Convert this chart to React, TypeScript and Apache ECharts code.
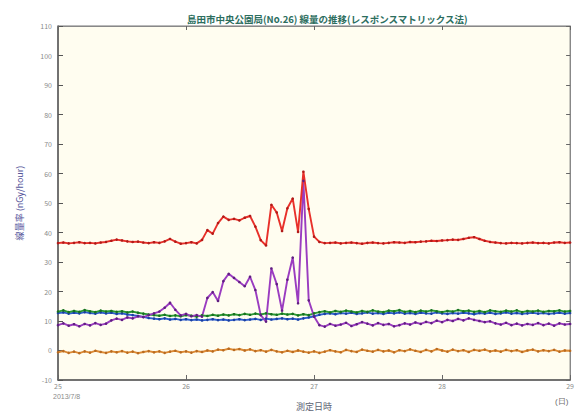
import React, { useEffect, useRef } from "react";
import * as echarts from "echarts";

// Hourly readings from 25th 00:00 to 29th 00:00 (97 points)
const startDay = 25;
const stepDays = 1 / 24;
const dayTicks = ["25", "26", "27", "28", "29"];

const totalRate = [
  36.4, 36.6, 36.3, 36.5, 36.7, 36.4, 36.5, 36.3, 36.6, 36.8, 37.2, 37.6, 37.3, 37.0, 36.8, 36.9, 36.6, 36.4, 36.7, 36.5,
  37.0, 37.8, 36.9, 36.2, 36.4, 36.7, 36.3, 37.5, 40.8, 39.6, 43.2, 45.4, 44.3, 44.6, 44.1, 45.0, 45.6, 42.0, 37.4, 35.6,
  49.4, 46.8, 40.5, 48.2, 51.5, 40.2, 60.6, 48.0, 38.6, 36.8, 36.4, 36.5, 36.6, 36.3, 36.5, 36.6, 36.4, 36.2, 36.5, 36.6,
  36.4, 36.3, 36.5, 36.7, 36.6, 36.5, 36.8, 36.7, 36.9, 37.0, 37.2, 37.1, 37.3, 37.4, 37.6, 37.5, 37.8, 38.2, 38.4, 37.8,
  37.2, 36.8, 36.6, 36.4, 36.3, 36.5, 36.4, 36.3, 36.5, 36.6, 36.4, 36.5, 36.3, 36.6, 36.7, 36.5, 36.6,
];

const uraniumRate = [
  8.6, 9.2, 8.4, 8.9, 8.2, 9.0, 8.5, 9.3, 8.7, 9.1, 10.2, 10.8, 10.4, 11.2, 10.9, 11.6, 11.3, 12.0, 12.6, 13.2,
  14.5, 16.2, 13.8, 11.9, 12.4, 11.6, 12.0, 11.5, 17.8, 19.8, 16.8, 23.5, 26.0, 24.6, 23.2, 21.8, 25.0, 20.5, 12.0, 9.8,
  27.8, 22.5, 13.5, 24.0, 31.5, 16.0, 57.5, 17.0, 11.5, 8.6, 8.1, 9.0, 8.4, 8.8, 9.4, 8.3, 8.9, 9.6, 9.1, 8.5,
  9.3, 8.7, 9.0, 8.2, 8.6, 9.2, 8.8, 9.5, 9.0, 9.7, 9.3, 10.1, 9.6, 10.4, 10.0, 10.7, 10.2, 10.9, 10.4, 10.0,
  9.6, 9.9, 9.2, 8.8, 9.4, 8.6, 9.1, 8.5, 9.0, 8.7, 9.3, 8.6, 9.1, 8.4, 9.2, 8.8, 9.0,
];

const thoriumRate = [
  13.2, 13.6, 13.0, 13.4, 13.1, 13.7, 13.3, 13.0, 13.5, 13.2, 13.4, 13.1, 13.3, 12.9, 13.2, 12.8, 12.5, 12.2, 12.0, 11.8,
  12.1, 11.7, 11.9, 11.6, 12.0, 11.8, 11.5, 11.9, 11.7, 12.1, 11.8, 12.2, 11.9, 12.3, 12.0, 12.4, 12.1, 12.5, 12.2, 12.6,
  12.3, 12.1, 12.5, 12.2, 12.4, 11.9, 12.3, 12.0, 12.6, 13.0, 13.3, 12.9, 13.4, 13.1, 13.5, 13.2, 12.9, 13.4, 13.1, 13.6,
  13.2, 13.0, 13.5, 13.3, 13.7, 13.1, 13.4, 13.0, 13.5, 13.2, 13.6, 13.3, 13.0, 13.4, 13.2, 13.7, 13.3, 13.5, 13.1, 13.4,
  13.0, 13.6, 13.3, 13.1, 13.5, 13.2, 13.6, 13.0, 13.4, 13.2, 13.5, 13.1, 13.4, 13.3, 13.6, 13.2, 13.4,
];

const potassiumRate = [
  12.7, 12.9, 12.5, 12.8, 12.6, 13.0, 12.7, 12.5, 12.9, 12.6, 12.8, 12.4, 12.6, 12.2, 12.0, 11.7, 11.4, 11.0, 10.8, 10.6,
  10.9, 10.5, 10.7, 10.4, 10.6, 10.3, 10.5, 10.2, 10.4, 10.6, 10.3, 10.5, 10.2, 10.4, 10.6, 10.3, 10.5, 10.7, 10.4, 10.8,
  10.5, 10.7, 10.9, 10.6, 10.8, 10.5, 10.9, 11.2, 11.6, 12.1, 12.4, 12.6, 12.3, 12.7, 12.5, 12.8, 12.4, 12.6, 12.9, 12.5,
  12.7, 12.4, 12.8, 12.6, 12.9, 12.5, 12.7, 12.4, 12.8, 12.6, 12.5, 12.9, 12.6, 12.4, 12.7, 12.5, 12.8, 12.6, 12.3, 12.7,
  12.5, 12.8, 12.4, 12.6, 12.9, 12.5, 12.7, 12.4, 12.6, 12.8, 12.5, 12.7, 12.4, 12.6, 12.8, 12.5, 12.7,
];

const artificialRate = [
  -0.6, -0.2, -0.8, -0.4, -0.9, -0.3, -0.7, -0.1, -0.5, -0.8, -0.3, -0.6, -0.2, -0.7, -0.4, -0.9, -0.5, -0.2, -0.6, -0.3,
  -0.8, -0.4, -0.1, -0.6, -0.3, -0.7, -0.2, -0.5, 0.0, -0.3, 0.3, 0.1, 0.6, 0.2, 0.5, 0.0, 0.4, -0.2, 0.1, -0.4,
  0.2, -0.3, -0.6, -0.1, -0.5, 0.0, -0.4, -0.7, -0.3, -0.8, -0.4, 0.1, -0.3, -0.6, 0.2, -0.2, -0.5, 0.3, -0.1, -0.4,
  0.2, -0.3, 0.0, -0.6, 0.1, -0.2, 0.4, -0.1, -0.5, 0.2, -0.3, 0.5, 0.0, -0.4, 0.3, -0.2, 0.1, -0.5, 0.2, -0.1,
  0.3, -0.3, 0.0, -0.4, 0.2, -0.2, 0.1, -0.5, 0.0, 0.3, -0.3, 0.1, -0.2, 0.2, -0.4, 0.0, -0.1,
];

const toPoints = (vals: number[]) => vals.map((v, i) => [startDay + i * stepDays, v]);

const makeSeries = (name: string, vals: number[], line: string, dot: string) => ({
  name,
  type: "line",
  data: toPoints(vals),
  showSymbol: true,
  symbol: "circle",
  symbolSize: 2.6,
  lineStyle: { color: line, width: 1.9 },
  itemStyle: { color: dot },
  emphasis: { disabled: true },
});

export default function App() {
  const ref = useRef<HTMLDivElement>(null);
  useEffect(() => {
    if (!ref.current) return;
    const chart = echarts.init(ref.current, undefined, { renderer: "svg" });
    const axisLineStyle = { color: "#5a5a5a", width: 1.5 };
    chart.setOption({
      animation: false,
      backgroundColor: "#ffffff",
      textStyle: { fontFamily: "'Noto Sans CJK JP', 'Noto Sans', sans-serif" },
      title: {
        text: "島田市中央公園局(No.26) 線量の推移(レスポンスマトリックス法)",
        left: 182,
        top: 9,
        textStyle: { fontSize: 9.5, fontWeight: "bold", color: "#2d6e5e" },
      },
      grid: {
        left: 58,
        right: 3,
        top: 26,
        bottom: 34,
        show: true,
        backgroundColor: "#fffdf0",
        borderColor: "#777",
        borderWidth: 1,
      },
      xAxis: [
        {
          type: "value",
          min: 25,
          max: 29,
          interval: 1,
          position: "bottom",
          axisLine: { show: true, onZero: false, lineStyle: axisLineStyle },
          axisTick: { show: true, inside: true, length: 5, lineStyle: { color: "#666" } },
          axisLabel: {
            fontSize: 7,
            color: "#8a8a8a",
            margin: 3,
            formatter: (v: number) => dayTicks[Math.round(v - 25)] ?? "",
          },
          splitLine: { show: false },
          name: "測定日時",
          nameLocation: "middle",
          nameGap: 22,
          nameTextStyle: { fontSize: 9, color: "#5d6373" },
        },
        {
          type: "value",
          min: 25,
          max: 29,
          interval: 1,
          position: "top",
          axisLine: { show: true, onZero: false, lineStyle: { color: "#888", width: 1 } },
          axisTick: { show: true, inside: true, length: 4, lineStyle: { color: "#666" } },
          axisLabel: { show: false },
          splitLine: { show: false },
        },
      ],
      yAxis: [
        {
          type: "value",
          min: -10,
          max: 110,
          interval: 10,
          position: "left",
          axisLine: { show: true, onZero: false, lineStyle: axisLineStyle },
          axisTick: { show: true, inside: true, length: 5, lineStyle: { color: "#555" } },
          axisLabel: { fontSize: 7, color: "#8a8a8a", margin: 6 },
          splitLine: { show: false },
          name: "線量率 (nGy/hour)",
          nameLocation: "middle",
          nameGap: 34,
          nameTextStyle: { fontSize: 9, color: "#55559a" },
        },
        {
          type: "value",
          min: -10,
          max: 110,
          interval: 10,
          position: "right",
          axisLine: { show: true, onZero: false, lineStyle: { color: "#888", width: 1 } },
          axisTick: { show: true, inside: true, length: 4, lineStyle: { color: "#666" } },
          axisLabel: { show: false },
          splitLine: { show: false },
        },
      ],
      graphic: [
        {
          type: "text",
          left: 53,
          top: 393,
          style: { text: "2013/7/8", fontSize: 7, fill: "#8a8a8a" },
        },
        {
          type: "text",
          left: 555,
          top: 397,
          style: { text: "(日)", fontSize: 8, fill: "#6a6a6a" },
        },
      ],
      series: [
        makeSeries("人工", artificialRate, "#dd8a34", "#b86a20"),
        makeSeries("K-40", potassiumRate, "#2f5fd0", "#1a3fa0"),
        makeSeries("Th系列", thoriumRate, "#2a9a34", "#17701f"),
        makeSeries("U系列", uraniumRate, "#9a3cc0", "#5f1d80"),
        makeSeries("全線量", totalRate, "#e8302a", "#b01a18"),
      ],
    });
    return () => chart.dispose();
  }, []);
  return (
    <div
      ref={ref}
      style={{ position: "fixed", left: 0, top: 0, width: 577, height: 416 }}
    />
  );
}
